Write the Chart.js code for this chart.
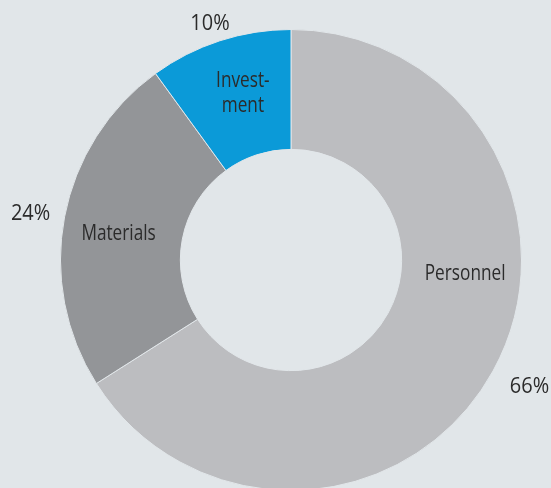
<!DOCTYPE html>
<html>
<head>
<meta charset="utf-8">
<script src="https://cdn.jsdelivr.net/npm/chart.js@4"></script>
<style>
    html, body { margin: 0; padding: 0; background: #e1e6e9; }
    #wrap { width: 551px; height: 488px; overflow: hidden; position: relative; }
    canvas { display: block; }
</style>
</head>
<body>
<div id="wrap"><canvas id="costChart" width="551" height="500"></canvas></div>
<script>
// ========================================
// DATA
// ========================================
const categories = ['Personnel', 'Materials', 'Invest-\nment'];
const shares = [66, 24, 10];
const shareLabels = ['66%', '24%', '10%'];

// ========================================
// STYLE
// ========================================
const sliceColors = ['#bcbdc0', '#939598', '#0b9ad8'];
const bgColor = '#e1e6e9';
const textColor = '#2b2b2b';
const fontFamily = '"Open Sans", "Noto Sans", sans-serif';
const fontSize = 21;
const capHeight = 15;
const nameSqueeze = 0.82;   // the original face is a narrow one
const pctSqueeze = 0.95;
// angle (deg from top, clockwise) where the inner name sits
const innerLabelAngle = [94, 279, 344];
// space between ring and percentage text
const pctGap = [22, 15, 12];

function drawText(ctx, text, cx, cy, squeeze) {
    ctx.save();
    ctx.translate(cx, cy + capHeight / 2);
    ctx.scale(squeeze, 1);
    ctx.fillText(text, 0, 0);
    ctx.restore();
}

// draws names inside the ring and percentages outside it
const sliceLabels = {
    id: 'sliceLabels',
    afterDatasetsDraw(chart) {
        const ctx = chart.ctx;
        const arcs = chart.getDatasetMeta(0).data;
        ctx.save();
        ctx.font = fontSize + 'px ' + fontFamily;
        ctx.fillStyle = textColor;
        ctx.textAlign = 'center';
        ctx.textBaseline = 'alphabetic';

        arcs.forEach(function (arc, i) {
            const p = arc.getProps(['x', 'y', 'startAngle', 'endAngle', 'innerRadius', 'outerRadius'], true);
            const mid = (p.startAngle + p.endAngle) / 2;

            // inner name
            const a = innerLabelAngle[i] * Math.PI / 180 - Math.PI / 2;
            const rMid = (p.innerRadius + p.outerRadius) / 2 + 4;
            const lines = categories[i].split('\n');
            const lh = 24.5;
            const cx = p.x + Math.cos(a) * rMid;
            const cy = p.y + Math.sin(a) * rMid;
            lines.forEach(function (line, j) {
                drawText(ctx, line, cx, cy + (j - (lines.length - 1) / 2) * lh, nameSqueeze);
            });

            // outer percentage
            const ax = p.x + Math.cos(mid) * (p.outerRadius + pctGap[i]);
            const ay = p.y + Math.sin(mid) * (p.outerRadius + pctGap[i]);
            const w = ctx.measureText(shareLabels[i]).width * pctSqueeze;
            drawText(ctx, shareLabels[i], ax + Math.cos(mid) * w / 2, ay + Math.sin(mid) * capHeight / 2, pctSqueeze);
        });
        ctx.restore();
    }
};

new Chart(document.getElementById('costChart'), {
    type: 'doughnut',
    data: {
        labels: categories,
        datasets: [{
            data: shares,
            backgroundColor: sliceColors,
            borderColor: bgColor,
            borderWidth: 1
        }]
    },
    options: {
        responsive: false,
        animation: false,
        cutout: '48%',
        layout: { padding: { left: 60, right: 29, top: 29, bottom: 9 } },
        plugins: {
            legend: { display: false },
            tooltip: { enabled: false }
        }
    },
    plugins: [sliceLabels]
});
</script>
</body>
</html>
